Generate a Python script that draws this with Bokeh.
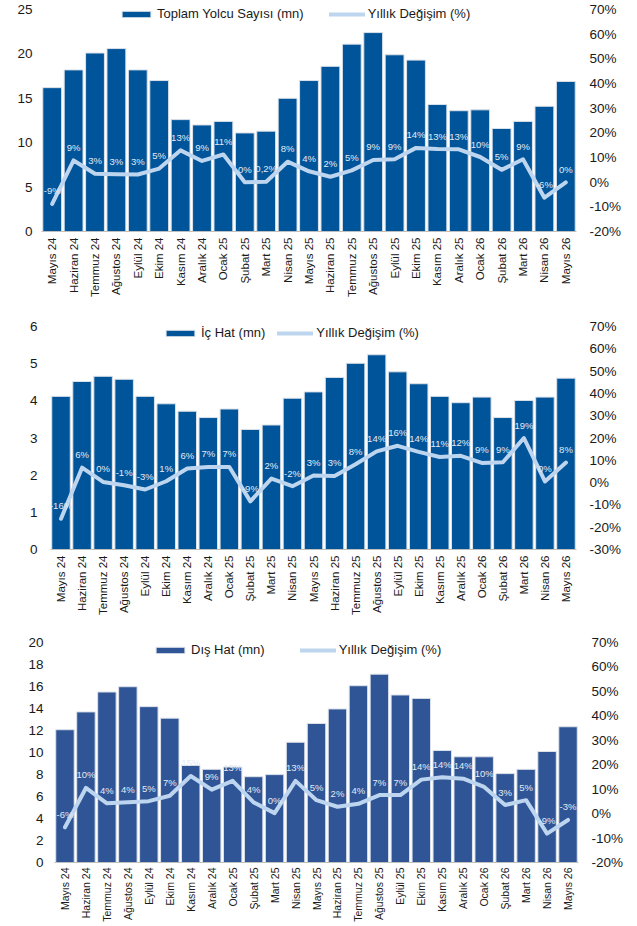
import math
from bokeh.plotting import figure
from bokeh.models import (Range1d, FactorRange, LinearAxis, CategoricalAxis, FixedTicker,
                          PrintfTickFormatter, Legend, LegendItem, ColumnDataSource)
from bokeh.embed import file_html
from bokeh.resources import INLINE
from bokeh.core.properties import value

FONT = "Liberation Sans"

months = ["Mayıs 24", "Haziran 24", "Temmuz 24", "Ağustos 24", "Eylül 24", "Ekim 24",
          "Kasım 24", "Aralık 24", "Ocak 25", "Şubat 25", "Mart 25", "Nisan 25",
          "Mayıs 25", "Haziran 25", "Temmuz 25", "Ağustos 25", "Eylül 25", "Ekim 25",
          "Kasım 25", "Aralık 25", "Ocak 26", "Şubat 26", "Mart 26", "Nisan 26", "Mayıs 26"]

# Chart 1: Toplam Yolcu Sayısı (mn)
total = [16.2, 18.2, 20.1, 20.6, 18.2, 17.0, 12.6, 12.0, 12.4, 11.1, 11.3, 15.0, 17.0,
         18.6, 21.1, 22.4, 19.9, 19.3, 14.3, 13.6, 13.7, 11.6, 12.4, 14.1, 16.9]
total_pct = [-8.8, 8.8, 3.4, 3.2, 3.1, 5.5, 12.9, 8.6, 11.2, 0.0, 0.2, 8.3, 4.4,
             2.2, 4.8, 9.0, 9.3, 13.9, 13.4, 13.3, 10.2, 5.0, 9.3, -6.3, -0.1]
total_labels = ["-9%", "9%", "3%", "3%", "3%", "5%", "13%", "9%", "11%", "0%", "0,2%", "8%", "4%",
                "2%", "5%", "9%", "9%", "14%", "13%", "13%", "10%", "5%", "9%", "-6%", "0%"]

# Chart 2: İç Hat (mn)
dom = [4.12, 4.52, 4.66, 4.58, 4.12, 3.92, 3.72, 3.55, 3.78, 3.23, 3.35, 4.07, 4.24,
       4.63, 5.01, 5.24, 4.78, 4.46, 4.12, 3.95, 4.10, 3.55, 4.01, 4.10, 4.61]
dom_pct = [-16.2, 6.7, 0.3, -1.2, -3.1, 0.6, 6.3, 7.0, 7.0, -8.4, 1.8, -1.6, 3.2,
           3.0, 8.2, 14.0, 16.5, 13.8, 11.5, 12.0, 8.8, 9.1, 20.0, 0.5, 9.0]
dom_labels = ["-16%", "6%", "0%", "-1%", "-3%", "1%", "6%", "7%", "7%", "-9%", "2%", "-2%", "3%",
              "3%", "8%", "14%", "16%", "14%", "11%", "12%", "9%", "9%", "19%", "0%", "8%"]

# Chart 3: Dış Hat (mn)
intl = [12.07, 13.69, 15.5, 15.98, 14.17, 13.12, 8.83, 8.47, 8.68, 7.8, 7.99, 10.93, 12.64,
        13.96, 16.07, 17.12, 15.23, 14.92, 10.18, 9.61, 9.61, 8.08, 8.47, 10.09, 12.34]
intl_pct = [-5.6, 10.5, 4.2, 4.6, 5.1, 7.3, 15.4, 9.8, 13.4, 4.6, 0.2, 13.4, 5.5,
            2.8, 4.0, 7.6, 7.6, 13.9, 14.9, 14.3, 10.9, 3.5, 5.5, -8.2, -2.6]
intl_labels = ["-6%", "10%", "4%", "4%", "5%", "7%", "15%", "9%", "13%", "4%", "0%", "13%", "5%",
               "2%", "4%", "7%", "7%", "14%", "14%", "14%", "10%", "3%", "5%", "-9%", "-3%"]

line_name = "Yıllık Değişim (%)"


def make_chart(bars, pct, labels, bar_name, bar_color, left_ticks, pct_ticks,
               height, b_top, b_bottom, b_left, b_right, left_standoff,
               legend_loc, legend_spacing, xlabel_size, xlabel_standoff, head_px=0):
    frame_h = height - b_top - b_bottom
    # extra headroom (in px) above the top tick, so the legend is not clipped
    k = head_px / float(frame_h - head_px)
    y_end = left_ticks[-1] + k * (left_ticks[-1] - left_ticks[0])
    pct_end = pct_ticks[-1] + k * (pct_ticks[-1] - pct_ticks[0])
    p = figure(width=626, height=height, x_range=FactorRange(factors=months),
               y_range=Range1d(left_ticks[0], y_end),
               output_backend="svg", toolbar_location=None,
               x_axis_location=None, y_axis_location=None,
               min_border_top=b_top, min_border_bottom=b_bottom,
               min_border_left=b_left, min_border_right=b_right)
    p.outline_line_color = None
    p.background_fill_color = "white"
    p.border_fill_color = "white"
    p.grid.visible = False
    p.extra_y_ranges = {"pct": Range1d(pct_ticks[0], pct_end)}

    src = ColumnDataSource(dict(m=months, bars=bars, pct=pct, lab=labels))

    vb = p.vbar(x="m", top="bars", width=0.88, source=src, fill_color=bar_color,
                line_color="#DCE1E8", line_width=1)
    ln = p.line(x="m", y="pct", source=src, y_range_name="pct", line_color="#BDD5EE",
                line_width=4, line_join="round", line_cap="round")
    p.text(x="m", y="pct", text="lab", source=src, y_range_name="pct",
           text_align="center", text_baseline="middle", y_offset=-13,
           text_font_size="9.5px", text_color="#E2EAF5", text_font=value(FONT))

    cat_axis = CategoricalAxis(axis_line_color="#BFBFBF", major_tick_line_color=None,
                               major_tick_in=0, major_tick_out=0,
                               major_label_orientation=math.pi / 2,
                               major_label_standoff=xlabel_standoff,
                               major_label_text_font=FONT, major_label_text_font_size=xlabel_size,
                               major_label_text_color="#1a1a1a")
    p.add_layout(cat_axis, "below")

    left_axis = LinearAxis(ticker=FixedTicker(ticks=left_ticks), axis_line_color=None,
                           major_tick_line_color=None, minor_tick_line_color=None,
                           major_tick_in=0, major_tick_out=0,
                           major_label_standoff=left_standoff, major_label_text_font=FONT,
                           major_label_text_font_size="13.5px", major_label_text_color="#1a1a1a")
    p.add_layout(left_axis, "left")
    right_axis = LinearAxis(y_range_name="pct", ticker=FixedTicker(ticks=pct_ticks),
                            formatter=PrintfTickFormatter(format="%d%%"),
                            axis_line_color=None, major_tick_line_color=None,
                            minor_tick_line_color=None, major_tick_in=0, major_tick_out=0,
                            major_label_standoff=13, major_label_text_font=FONT,
                            major_label_text_font_size="13.5px", major_label_text_color="#1a1a1a")
    p.add_layout(right_axis, "right")

    legend = Legend(items=[LegendItem(label=bar_name, renderers=[vb]),
                           LegendItem(label=line_name, renderers=[ln])],
                    location=legend_loc, orientation="horizontal",
                    background_fill_alpha=0, border_line_alpha=0, padding=0, margin=0,
                    spacing=legend_spacing, label_standoff=3, glyph_width=36, glyph_height=8,
                    label_height=14, label_text_font=FONT, label_text_font_size="13px",
                    label_text_color="#1a1a1a")
    p.add_layout(legend)
    return p


# frames (page px): chart1 x 41-576, y 9-231; chart2 x 50-576, y 326-549; chart3 x 54-583, y 642-862
p1 = make_chart(total, total_pct, total_labels, "Toplam Yolcu Sayısı (mn)", "#005499",
                [0, 5, 10, 15, 20, 25], list(range(-20, 71, 10)),
                height=312, b_top=3, b_bottom=81, b_left=41, b_right=50, left_standoff=9,
                legend_loc=(77, 210), legend_spacing=25, xlabel_size="11.5px", xlabel_standoff=6,
                head_px=6)
p2 = make_chart(dom, dom_pct, dom_labels, "İç Hat (mn)", "#005499",
                [0, 1, 2, 3, 4, 5, 6], list(range(-30, 71, 10)),
                height=316, b_top=14, b_bottom=79, b_left=50, b_right=50, left_standoff=13,
                legend_loc=(112, 209), legend_spacing=12, xlabel_size="11.5px", xlabel_standoff=6)
p3 = make_chart(intl, intl_pct, intl_labels, "Dış Hat (mn)", "#2F5597",
                [0, 2, 4, 6, 8, 10, 12, 14, 16, 18, 20], list(range(-20, 71, 10)),
                height=296, b_top=14, b_bottom=60, b_left=54, b_right=43, left_standoff=11,
                legend_loc=(98, 205), legend_spacing=35, xlabel_size="10.5px", xlabel_standoff=5)

open("out.html", "w").write(file_html([p1, p2, p3], INLINE))
